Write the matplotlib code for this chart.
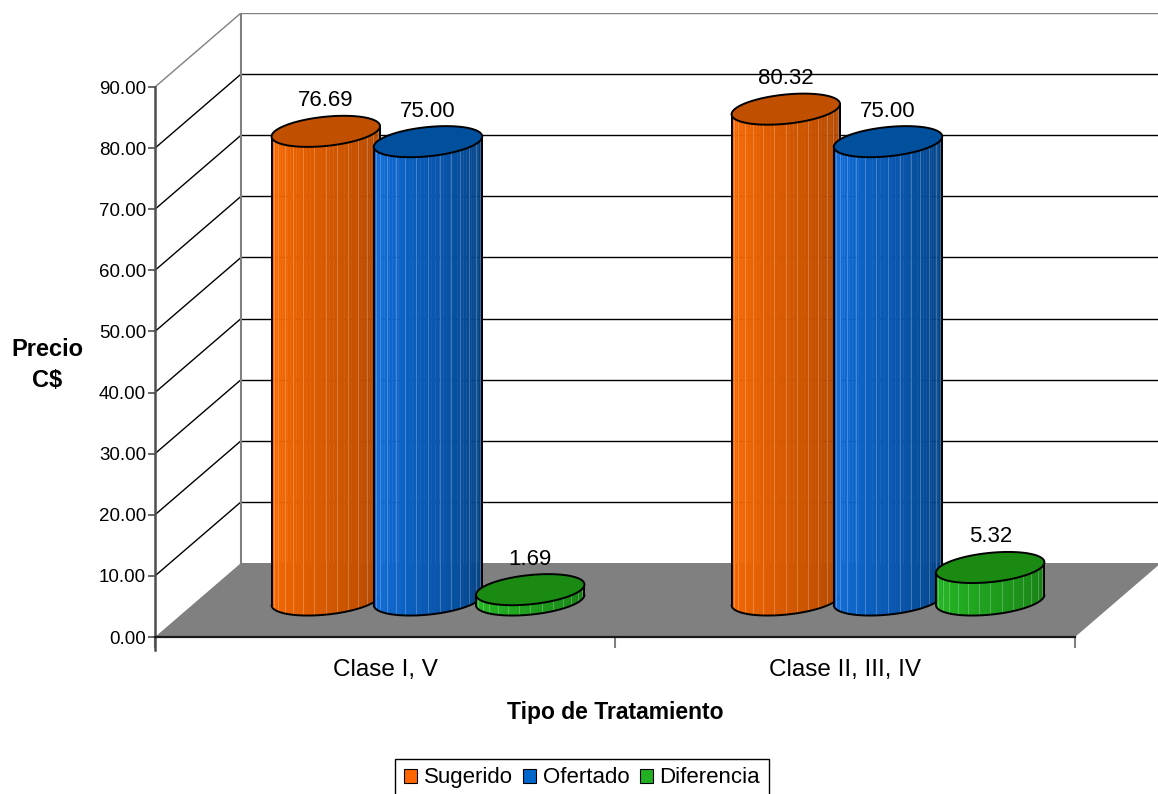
import numpy as np
import matplotlib
matplotlib.use("Agg")
import matplotlib.pyplot as plt
from matplotlib.patches import Polygon, Patch
from matplotlib.colors import to_rgb

plt.rcParams['font.family'] = ['Liberation Sans', 'DejaVu Sans']

# datos
categorias = ["Clase I, V", "Clase II, III, IV"]
series = ["Sugerido", "Ofertado", "Diferencia"]
sugerido = [76.69, 80.32]
ofertado = [75.00, 75.00]
diferencia = [1.69, 5.32]
valores = [sugerido, ofertado, diferencia]
yticks = [0, 10, 20, 30, 40, 50, 60, 70, 80, 90]

# colores (claro, oscuro, tapa, leyenda)
estilos = [
    ("#ff6c00", "#a84300", "#c04f00", "#ff6600"),
    ("#1273e6", "#003c7a", "#00509e", "#0066cc"),
    ("#26c026", "#157a12", "#1b8a12", "#22b022"),
]

# geometria de la vista oblicua (en unidades de datos)
PX_VAL = 550 / 90.0          # pixeles por unidad de precio
PX_CAT = 460.0               # pixeles por categoria
DX = 86 / PX_CAT             # desplazamiento de profundidad en x
DY = 74 / PX_VAL             # desplazamiento de profundidad en y
DEPTH = 0.5
ANCHO = 1 / 4.5              # ancho de cada cilindro
A = ANCHO / 2
B = 0.21                     # radio en profundidad (fraccion)
YMIN = -13 / PX_VAL
YMAX = (637 - 13) / PX_VAL
XMAX = (1158 - 155) / PX_CAT

fig = plt.figure(figsize=(11.58, 7.94), dpi=100)
ax = fig.add_axes([155 / 1158, (794 - 650) / 794, 1003 / 1158, 637 / 794])
ax.set_xlim(0, XMAX)
ax.set_ylim(YMIN, YMAX)
ax.set_facecolor("none")

n = len(categorias)

# pared del fondo y pared lateral
for v in yticks[1:]:
    c = "#808080" if v == 90 else "black"
    ax.plot([DX, n + DX], [v + DY, v + DY], color=c, lw=1.0, zorder=1)
    ax.plot([0, DX], [v, v + DY], color=c, lw=1.0, zorder=1)
ax.plot([DX, DX], [DY, 90 + DY], color="#808080", lw=1.5, zorder=1)

# piso
ax.add_patch(Polygon([(0, 0), (n, 0), (n + DX, DY), (DX, DY)], closed=True,
                     facecolor="#808080", edgecolor="none", zorder=2))


def mezcla(c1, c2, f):
    a = np.array(to_rgb(c1))
    b = np.array(to_rgb(c2))
    return tuple(a + (b - a) * f)


def cilindro(xc, val, claro, oscuro, tapa, z):
    cx = xc + DX * DEPTH
    y0 = DY * DEPTH
    y1 = y0 + val
    t0 = np.arctan2(B * DX, A)
    N = 44
    ts = np.linspace(t0 + np.pi, t0 + 2 * np.pi, N + 1)
    ex = cx + A * np.cos(ts) + B * DX * np.sin(ts)
    ey = B * DY * np.sin(ts)
    for k in range(N):
        f = (k + 0.5) / N
        col = mezcla(claro, oscuro, f ** 1.1)
        poly = [(ex[k], y0 + ey[k]), (ex[k + 1], y0 + ey[k + 1]),
                (ex[k + 1], y1 + ey[k + 1]), (ex[k], y1 + ey[k])]
        ax.add_patch(Polygon(poly, closed=True, facecolor=col, edgecolor=col,
                             lw=0.3, zorder=z))
        if k % 3 == 1:
            luz = mezcla(col, "#ffffff", 0.28)
            ax.plot([ex[k], ex[k]], [y0 + ey[k], y1 + ey[k]], color=luz,
                    lw=0.7, alpha=0.85, zorder=z + 0.05)
    ax.plot(ex, y0 + ey, color="black", lw=1.4, zorder=z + 0.1,
            solid_capstyle="round")
    ax.plot([ex[0], ex[0]], [y0 + ey[0], y1 + ey[0]], color="black", lw=1.4,
            zorder=z + 0.1)
    ax.plot([ex[-1], ex[-1]], [y0 + ey[-1], y1 + ey[-1]], color="black", lw=1.4,
            zorder=z + 0.1)
    tt = np.linspace(0, 2 * np.pi, 200)
    tx = cx + A * np.cos(tt) + B * DX * np.sin(tt)
    ty = y1 + B * DY * np.sin(tt)
    ax.add_patch(Polygon(np.column_stack([tx, ty]), closed=True, facecolor=tapa,
                         edgecolor="black", lw=1.4, zorder=z + 0.2))
    return cx, y1


z = 3
for i in range(n):
    for j, vals in enumerate(valores):
        xc = i + 0.5 + (j - 1) * ANCHO
        claro, oscuro, tapa, _ = estilos[j]
        cx, ytop = cilindro(xc, vals[i], claro, oscuro, tapa, z)
        ax.text(cx, ytop + 5.0, f"{vals[i]:.2f}", ha="center", va="center",
                fontsize=16, color="black", zorder=20)
        z += 1

# ejes
for s in ["top", "right"]:
    ax.spines[s].set_visible(False)
ax.spines["left"].set_bounds(YMIN, 90)
ax.spines["left"].set_color("#4d4d4d")
ax.spines["left"].set_linewidth(1.8)
ax.spines["left"].set_zorder(15)
ax.spines["bottom"].set_position(("data", 0))
ax.spines["bottom"].set_bounds(0, n)
ax.spines["bottom"].set_color("#1a1a1a")
ax.spines["bottom"].set_linewidth(1.6)
ax.spines["bottom"].set_zorder(15)

ax.set_yticks(yticks)
ax.set_yticklabels([f"{v:.2f}" for v in yticks])
ax.tick_params(axis="y", direction="out", length=5, width=1.2, color="#4d4d4d",
               labelsize=13.5, pad=1.5)
ax.set_xticks(range(n + 1))
ax.set_xticklabels([])
ax.set_xticks([i + 0.5 for i in range(n)], minor=True)
ax.set_xticklabels(categorias, minor=True)
ax.tick_params(axis="x", which="major", direction="out", length=8, width=1.5,
               color="#808080")
ax.tick_params(axis="x", which="minor", length=0, labelsize=17.5, pad=16)

ax.set_xlabel("Tipo de Tratamiento", fontsize=16.5, fontweight="bold", va="center")
ax.xaxis.set_label_coords((n / 2) / XMAX, (650 - 713) / 637)
ax.set_ylabel("Precio\nC$", fontsize=17, fontweight="bold", rotation=0,
              ha="center", va="center", linespacing=1.45)
ax.yaxis.set_label_coords((47 - 155) / 1003, (650 - 365) / 637)

# leyenda
handles = [Patch(facecolor=e[3], edgecolor="black", lw=0.8) for e in estilos]
leg = fig.legend(handles, series, loc="upper center",
                 bbox_to_anchor=(582 / 1158, 1 - 759 / 794), ncol=3,
                 frameon=True, fancybox=False, edgecolor="black", framealpha=1,
                 fontsize=16, borderpad=0.38, handlelength=0.6, handleheight=0.6,
                 handletextpad=0.3, columnspacing=0.45, borderaxespad=0)
leg.get_frame().set_linewidth(1.0)

plt.savefig("out.png", dpi=100)
